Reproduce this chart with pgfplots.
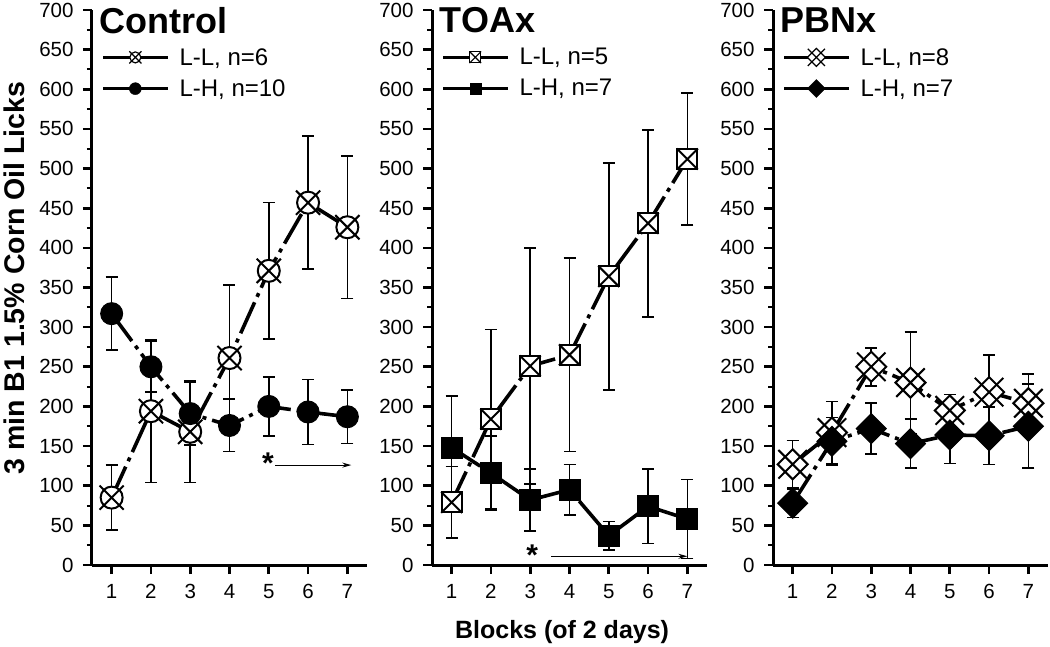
\documentclass[border=0pt]{standalone}
\usepackage{pgfplots}
\usepackage{pgfplotstable}
\pgfplotsset{compat=1.18}
\usetikzlibrary{arrows.meta}
\usepackage{fontspec}
\setmainfont{Liberation Sans}

\pgfdeclareplotmark{circlex}{%
  \pgfpathcircle{\pgfpointorigin}{\pgfplotmarksize}%
  \pgfusepathqfillstroke
  \pgfpathmoveto{\pgfqpoint{-1.1\pgfplotmarksize}{-1.1\pgfplotmarksize}}%
  \pgfpathlineto{\pgfqpoint{1.1\pgfplotmarksize}{1.1\pgfplotmarksize}}%
  \pgfpathmoveto{\pgfqpoint{-1.1\pgfplotmarksize}{1.1\pgfplotmarksize}}%
  \pgfpathlineto{\pgfqpoint{1.1\pgfplotmarksize}{-1.1\pgfplotmarksize}}%
  \pgfusepathqstroke}
\pgfdeclareplotmark{squarex}{%
  \pgfpathrectangle{\pgfqpoint{-\pgfplotmarksize}{-\pgfplotmarksize}}{\pgfqpoint{2\pgfplotmarksize}{2\pgfplotmarksize}}%
  \pgfusepathqfillstroke
  \pgfpathmoveto{\pgfqpoint{-1.05\pgfplotmarksize}{-1.05\pgfplotmarksize}}%
  \pgfpathlineto{\pgfqpoint{1.05\pgfplotmarksize}{1.05\pgfplotmarksize}}%
  \pgfpathmoveto{\pgfqpoint{-1.05\pgfplotmarksize}{1.05\pgfplotmarksize}}%
  \pgfpathlineto{\pgfqpoint{1.05\pgfplotmarksize}{-1.05\pgfplotmarksize}}%
  \pgfusepathqstroke}
\pgfdeclareplotmark{rdiamond}{%
  \pgfpathmoveto{\pgfqpoint{0pt}{\pgfplotmarksize}}%
  \pgfpathlineto{\pgfqpoint{\pgfplotmarksize}{0pt}}%
  \pgfpathlineto{\pgfqpoint{0pt}{-\pgfplotmarksize}}%
  \pgfpathlineto{\pgfqpoint{-\pgfplotmarksize}{0pt}}%
  \pgfpathclose
  \pgfusepathqfillstroke}
\pgfdeclareplotmark{diamondx}{%
  \pgfpathmoveto{\pgfqpoint{0pt}{\pgfplotmarksize}}%
  \pgfpathlineto{\pgfqpoint{\pgfplotmarksize}{0pt}}%
  \pgfpathlineto{\pgfqpoint{0pt}{-\pgfplotmarksize}}%
  \pgfpathlineto{\pgfqpoint{-\pgfplotmarksize}{0pt}}%
  \pgfpathclose
  \pgfusepathqfillstroke
  \pgfpathmoveto{\pgfqpoint{-0.95\pgfplotmarksize}{-0.95\pgfplotmarksize}}%
  \pgfpathlineto{\pgfqpoint{0.95\pgfplotmarksize}{0.95\pgfplotmarksize}}%
  \pgfpathmoveto{\pgfqpoint{-0.95\pgfplotmarksize}{0.95\pgfplotmarksize}}%
  \pgfpathlineto{\pgfqpoint{0.95\pgfplotmarksize}{-0.95\pgfplotmarksize}}%
  \pgfusepathqstroke}

\pgfplotstableread{
x y e
1 85 41
2 194 90
3 168 64
4 261 92
5 371 86
6 457 84
7 426 90
}\ctrlLL
\pgfplotstableread{
x y e
1 317 46
2 250 32
3 191 40
4 176 33
5 200 37
6 193 41
7 187 34
}\ctrlLH
\pgfplotstableread{
x y e
1 79 45
2 184 113
3 251 149
4 265 122
5 364 143
6 431 118
7 512 83
}\toaLL
\pgfplotstableread{
x y e
1 148 65
2 116 47
3 82 39
4 95 32
5 37 18
6 74 47
7 58 50
}\toaLH
\pgfplotstableread{
x y e
1 127 30
2 167 39
3 250 24
4 230 64
5 195 20
6 218 47
7 204 37
}\pbnLL
\pgfplotstableread{
x y e
1 78 18
2 156 30
3 172 32
4 153 31
5 164 36
6 163 36
7 175 53
}\pbnLH

\tikzset{ttl/.style={anchor=north west, inner sep=0pt, font=\bfseries\fontsize{36}{36}\selectfont}}

\pgfplotsset{
  panel/.style={
    anchor=south west,
    scale only axis, width=275pt, height=555pt,
    xmin=0.5, xmax=7.5, ymin=0, ymax=700,
    axis x line=bottom, axis y line=left,
    axis line style={-, line width=3pt},
    xtick={1,2,3,4,5,6,7}, ytick={0,50,...,700}, minor y tick num=1,
    tick align=outside,
    major tick length=9pt, minor tick length=5pt,
    every major tick/.style={black, line width=2.6pt},
    every minor tick/.style={black, line width=2pt},
    tick label style={font=\fontsize{20.5}{20.5}\selectfont},
    xticklabel style={yshift=-7pt},
    yticklabel style={xshift=-6pt},
    /pgf/number format/assume math mode=true,
    clip=false,
    legend style={anchor=north west, draw=none, fill=none,
      font=\fontsize{24}{24}\selectfont, row sep=9pt, inner sep=0pt},
    legend cell align=left,
    legend image code/.code={%
      \draw[##1, line width=3pt, solid] (0pt,0pt) -- (65pt,0pt);
      \draw[##1, solid] plot coordinates {(32pt,0pt)};
      \path (74pt,0pt);},
  },
  errs/.style={draw=none, mark=none, forget plot,
    error bars/.cd, y dir=both, y explicit,
    error mark options={rotate=90, mark size=6pt, line width=1.6pt, draw=black, solid},
    error bar style={line width=1.6pt, draw=black, solid}},
  ln/.style={black, line width=3.6pt, dash pattern=on 34pt off 6pt on 4pt off 6pt, forget plot},
}

\begin{document}
\begin{tikzpicture}
\useasboundingbox (0,0) rectangle (1050pt,646pt);

% ---------------- Control
\begin{axis}[panel, at={(92pt,81pt)},
  ylabel={\bfseries 3 min B1 1.5\% Corn Oil Licks},
  ylabel style={at={(axis description cs:-0.284,0.517)}, anchor=center, font=\fontsize{28.5}{28.5}\selectfont},
  legend style={at={(rel axis cs:0.035,0.935)}}]
\addplot[errs] table[x=x, y=y, y error=e]{\ctrlLL};
\addplot[errs] table[x=x, y=y, y error=e]{\ctrlLH};
\addplot[ln, mark=circlex, mark size=11pt, mark options={solid, fill=white, line width=2pt}] table[x=x, y=y]{\ctrlLL};
\addplot[ln, mark=*, mark size=11pt, mark options={solid, fill=black, line width=1pt}] table[x=x, y=y]{\ctrlLH};
\addlegendimage{black, mark=circlex, mark size=5.5pt, mark options={fill=white, line width=1.2pt}}
\addlegendentry{L-L, n=6}
\addlegendimage{black, mark=*, mark size=6pt, mark options={fill=black}}
\addlegendentry{L-H, n=10}
\node[ttl] at (rel axis cs:0.028,1.005) {Control};
\node[font=\bfseries\fontsize{30}{30}\selectfont] at (axis cs:4.98,128) {*};
\draw[line width=1pt, -{Stealth[length=9pt, width=5pt]}] (axis cs:5.17,126) -- (axis cs:7.1,126);
\end{axis}

% ---------------- TOAx
\begin{axis}[panel, at={(432pt,81pt)},
  xlabel={\bfseries Blocks (of 2 days)},
  xlabel style={at={(axis description cs:0.473,-0.121)}, anchor=center, font=\fontsize{25}{25}\selectfont},
  legend style={at={(rel axis cs:0.035,0.935)}}]
\addplot[errs] table[x=x, y=y, y error=e]{\toaLL};
\addplot[errs] table[x=x, y=y, y error=e]{\toaLH};
\addplot[ln, mark=squarex, mark size=10pt, mark options={solid, fill=white, line width=2pt}] table[x=x, y=y]{\toaLL};
\addplot[ln, mark=square*, mark size=10.5pt, mark options={solid, fill=black, line width=1pt}] table[x=x, y=y]{\toaLH};
\addlegendimage{black, mark=squarex, mark size=5.5pt, mark options={fill=white, line width=1.2pt}}
\addlegendentry{L-L, n=5}
\addlegendimage{black, mark=square*, mark size=5.5pt, mark options={fill=black}}
\addlegendentry{L-H, n=7}
\node[ttl] at (rel axis cs:0.028,1.005) {TOAx};
\node[font=\bfseries\fontsize{30}{30}\selectfont] at (axis cs:3.05,12) {*};
\draw[line width=1pt, -{Stealth[length=9pt, width=5pt]}] (axis cs:3.53,11) -- (axis cs:7.0,11);
\end{axis}

% ---------------- PBNx
\begin{axis}[panel, at={(773pt,81pt)},
  legend style={at={(rel axis cs:0.035,0.935)}}]
\addplot[errs] table[x=x, y=y, y error=e]{\pbnLL};
\addplot[errs] table[x=x, y=y, y error=e]{\pbnLH};
\addplot[ln, mark=diamondx, mark size=15pt, mark options={solid, fill=white, line width=2pt}] table[x=x, y=y]{\pbnLL};
\addplot[ln, mark=rdiamond, mark size=15pt, mark options={solid, fill=black, line width=1pt}] table[x=x, y=y]{\pbnLH};
\addlegendimage{black, mark=diamondx, mark size=9pt, mark options={fill=white, line width=1.2pt}}
\addlegendentry{L-L, n=8}
\addlegendimage{black, mark=rdiamond, mark size=9pt, mark options={fill=black}}
\addlegendentry{L-H, n=7}
\node[ttl] at (rel axis cs:0.028,1.005) {PBNx};
\end{axis}
\end{tikzpicture}
\end{document}
